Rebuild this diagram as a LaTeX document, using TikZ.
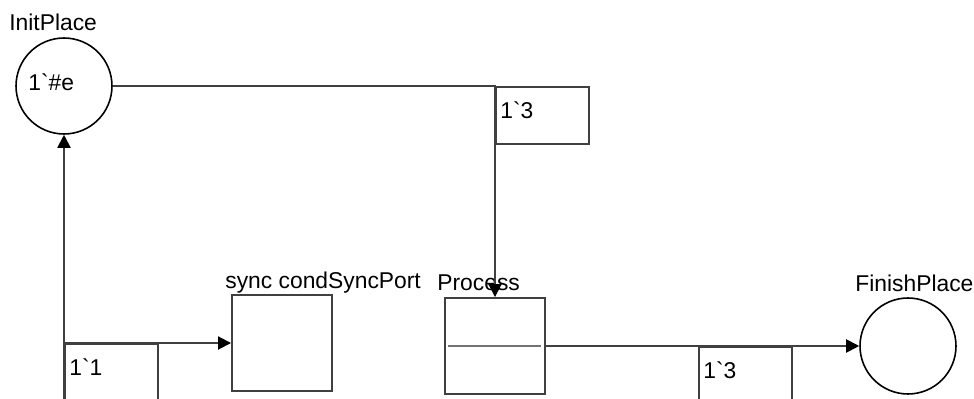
\documentclass[tikz,border=0pt]{standalone}
\usepackage{fontspec}
\setmainfont{Liberation Sans}
\usetikzlibrary{arrows.meta,calc}

\begin{document}
\begin{tikzpicture}[
  x=0.02cm,
  y=-0.02cm,
  every node/.style={font=\fontsize{13}{15}\selectfont, black},
  place/.style={circle, draw=black, line width=0.9pt, minimum size=1.92cm, inner sep=0pt},
  trans/.style={rectangle, draw=black!75, line width=1.1pt,
                minimum width=2cm, minimum height=1.92cm, inner sep=0pt},
  arclabel/.style={rectangle, draw=black!75, line width=1.1pt,
                   minimum width=1.86cm, minimum height=1.14cm, inner sep=0pt},
  tag/.style={anchor=west, inner sep=0pt},
  arc/.style={black!75, line width=1.1pt,
              -{Triangle[length=0.26cm, width=0.26cm, color=black]}},
  plain/.style={black!55, line width=1.6pt}
]
  % ---- page frame ----
  \useasboundingbox (0,0) rectangle (974,399);
  \clip (0,0) rectangle (974,399);

  % ---- places ----
  \node[place] (init) at (64,86) {};
  \node[place] (fin)  at (908,346) {};
  \node[tag] at (28,82) {1\textasciigrave\#e};

  % ---- transitions ----
  \node[trans] (sync) at (282,343) {};
  \node[trans] (proc) at (495,346) {};
  \draw[plain] ($(proc.west)+(4,0)$) -- ($(proc.east)-(5,0)$);

  % ---- names ----
  \node[tag] at (9,22)    {InitPlace};
  \node[tag] at (225,283) {sync condSyncPort};
  \node[tag] at (437,283) {Process};
  \node[tag] at (855,283) {FinishPlace};

  % ---- arcs ----
  \coordinate (initfoot) at (64,420);
  \coordinate (syncjoin) at (64,343);
  \draw[arc] (init.east) -| (proc.north);
  \draw[arc] (initfoot) -- (init.south);
  \draw[arc] (syncjoin) -- (sync.west);
  \draw[arc] (proc.east) -- (fin.west);

  % ---- arc inscriptions ----
  \node[arclabel, anchor=north west] (lab3a) at (init.east -| proc.north) {};
  \node[tag] at ($(lab3a.north west)+(5,24)$) {1\textasciigrave3};
  \node[arclabel, anchor=north west] (lab1) at (syncjoin) {};
  \node[tag] at ($(lab1.north west)+(5,24)$) {1\textasciigrave1};
  \node[arclabel, anchor=north west] (lab3b) at (698,346) {};
  \node[tag] at ($(lab3b.north west)+(5,24)$) {1\textasciigrave3};
\end{tikzpicture}
\end{document}
